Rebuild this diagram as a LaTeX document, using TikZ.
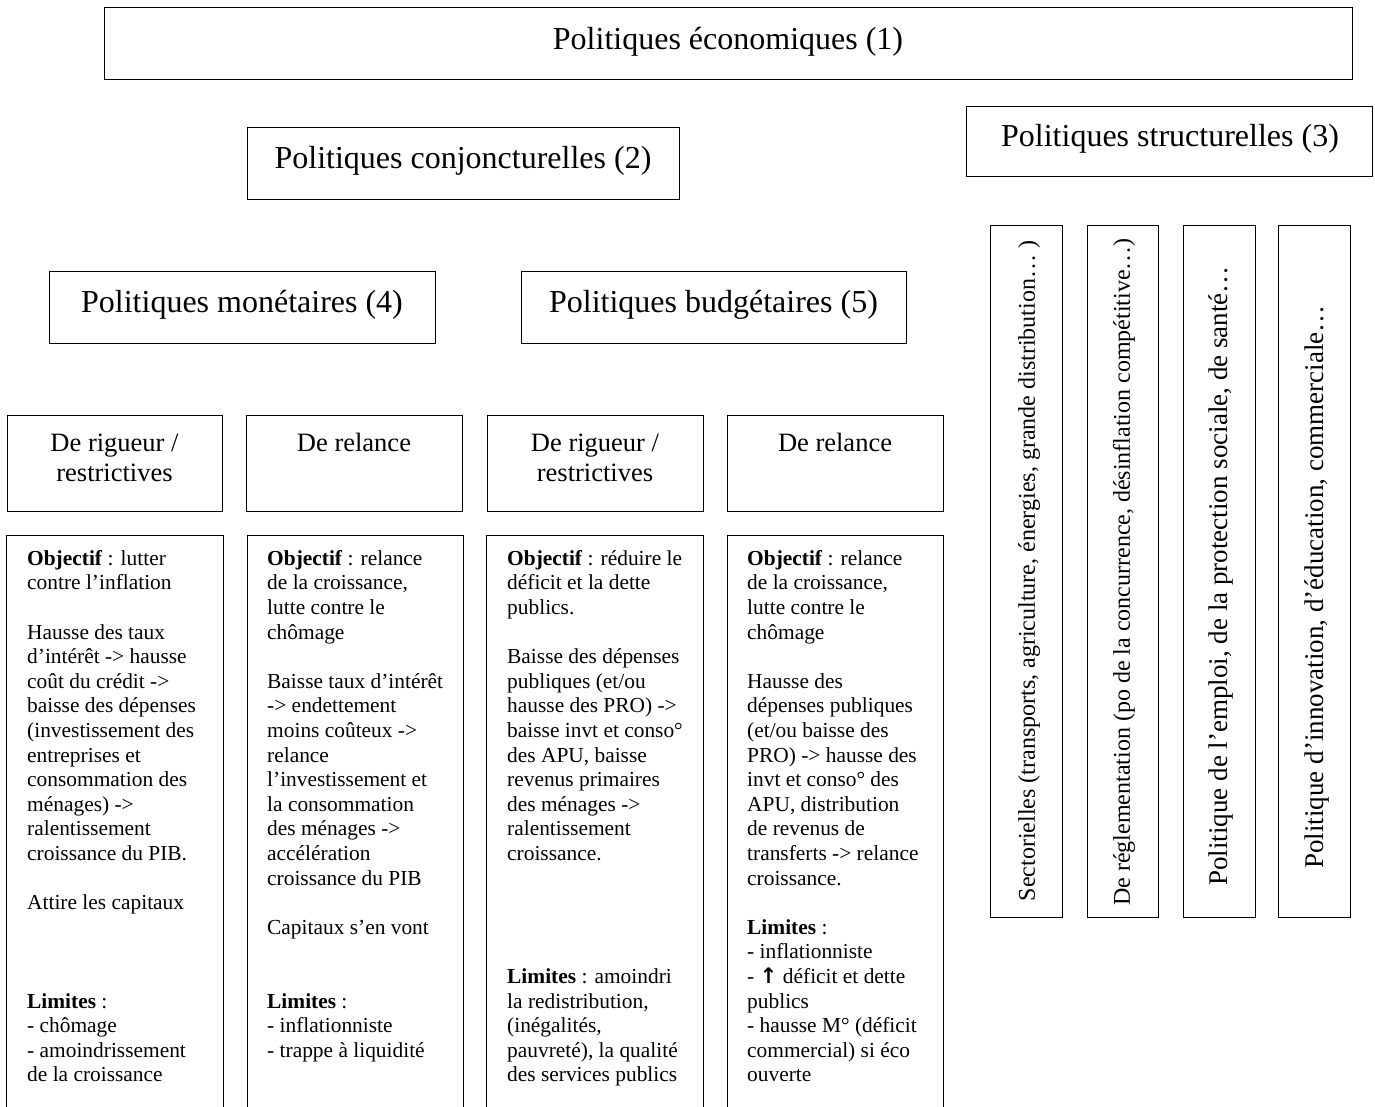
\documentclass[tikz,border=0pt]{standalone}
\usepackage{fontspec}
\setmainfont{Liberation Serif}
\newfontfamily\arrowfont{DejaVu Sans}
\begin{document}
\begin{tikzpicture}[x=1pt,y=-1pt,
  box/.style={draw, line width=1.3pt, rectangle, inner sep=0pt, anchor=north west},
  big/.style={font=\fontsize{32}{36.8}\selectfont, anchor=base, inner sep=0pt},
  head/.style={font=\fontsize{26.5}{30.5}\selectfont, align=center, anchor=north, inner sep=0pt},
  body/.style={font=\fontsize{21.4}{24.6}\selectfont, align=left, anchor=north west, inner sep=0pt},
  vsmall/.style={rotate=90, inner sep=0pt, font=\fontsize{24}{27}\selectfont},
  vlarge/.style={rotate=90, inner sep=0pt, font=\fontsize{27}{31}\selectfont}]
\useasboundingbox (0,0) rectangle (1375,1106);
\fill[white] (0,0) rectangle (1375,1106);

% level 1
\node[box, minimum width=1248pt, minimum height=72pt] (eco) at (104,7) {};
\node[big] (ecot) at (728,49) {Politiques économiques (1)};

% level 2
\node[box, minimum width=432pt, minimum height=72pt] (conj) at (247,127) {};
\node[big] (conjt) at (463,168) {Politiques conjoncturelles (2)};
\node[box, minimum width=406pt, minimum height=70pt] (struc) at (966,106) {};
\node[big] (struct) at (1170,146) {Politiques structurelles (3)};

% level 3
\node[box, minimum width=386pt, minimum height=72pt] (mon) at (49,271) {};
\node[big] (mont) at (242,312) {Politiques monétaires (4)};
\node[box, minimum width=385pt, minimum height=72pt] (bud) at (521,271) {};
\node[big] (budt) at (713.5,312) {Politiques budgétaires (5)};

% headings
\node[box, minimum width=215pt, minimum height=96pt] (ha) at (7,415) {};
\node[head] (hat) at (114.5,431) {\rule{0pt}{20pt}De rigueur /\\restrictives};
\node[box, minimum width=216pt, minimum height=96pt] (hb) at (246,415) {};
\node[head] (hbt) at (354,431) {\rule{0pt}{20pt}De relance};
\node[box, minimum width=216pt, minimum height=96pt] (hc) at (487,415) {};
\node[head] (hct) at (595,431) {\rule{0pt}{20pt}De rigueur /\\restrictives};
\node[box, minimum width=216pt, minimum height=96pt] (hd) at (727,415) {};
\node[head] (hdt) at (835,431) {\rule{0pt}{20pt}De relance};

% body boxes (cut by the page bottom)
\begin{scope}
\clip (0,0) rectangle (1375,1106);
\node[box, minimum width=217pt, minimum height=600pt] (ba) at (6,535) {};
\node[box, minimum width=216pt, minimum height=600pt] (bb) at (247,535) {};
\node[box, minimum width=217pt, minimum height=600pt] (bc) at (486,535) {};
\node[box, minimum width=216pt, minimum height=600pt] (bd) at (727,535) {};
\end{scope}

\node[body] (bat) at (27,550) {\rule{0pt}{15pt}\textbf{Objectif} : lutter\\
contre l’inflation\\[24.6pt]
Hausse des taux\\
d’intérêt -> hausse\\
coût du crédit ->\\
baisse des dépenses\\
(investissement des\\
entreprises et\\
consommation des\\
ménages) ->\\
ralentissement\\
croissance du PIB.\\[24.6pt]
Attire les capitaux\\[73.8pt]
\textbf{Limites} :\\
- chômage\\
- amoindrissement\\
de la croissance};

\node[body] (bbt) at (267,550) {\rule{0pt}{15pt}\textbf{Objectif} : relance\\
de la croissance,\\
lutte contre le\\
chômage\\[24.6pt]
Baisse taux d’intérêt\\
-> endettement\\
moins coûteux ->\\
relance\\
l’investissement et\\
la consommation\\
des ménages ->\\
accélération\\
croissance du PIB\\[24.6pt]
Capitaux s’en vont\\[49.2pt]
\textbf{Limites} :\\
- inflationniste\\
- trappe à liquidité};

\node[body] (bct) at (507,550) {\rule{0pt}{15pt}\textbf{Objectif} : réduire le\\
déficit et la dette\\
publics.\\[24.6pt]
Baisse des dépenses\\
publiques (et/ou\\
hausse des PRO) ->\\
baisse invt et conso°\\
des APU, baisse\\
revenus primaires\\
des ménages ->\\
ralentissement\\
croissance.\\[98.4pt]
\textbf{Limites} : amoindri\\
la redistribution,\\
(inégalités,\\
pauvreté), la qualité\\
des services publics};

\node[body] (bdt) at (747,550) {\rule{0pt}{15pt}\textbf{Objectif} : relance\\
de la croissance,\\
lutte contre le\\
chômage\\[24.6pt]
Hausse des\\
dépenses publiques\\
(et/ou baisse des\\
PRO) -> hausse des\\
invt et conso° des\\
APU, distribution\\
de revenus de\\
transferts -> relance\\
croissance.\\[24.6pt]
\textbf{Limites} :\\
- inflationniste\\
- {\arrowfont\bfseries ↑} déficit et dette\\
publics\\
- hausse M° (déficit\\
commercial) si éco\\
ouverte};

% structural boxes
\node[box, minimum width=72pt, minimum height=692pt] (s1) at (990,225) {};
\node[vsmall] (s1t) at (1029,571) {Sectorielles (transports, agriculture, énergies, grande distribution… )};
\node[box, minimum width=71pt, minimum height=692pt] (s2) at (1087,225) {};
\node[vsmall] (s2t) at (1124,572) {De réglementation (po de la concurrence, désinflation compétitive…)};
\node[box, minimum width=72pt, minimum height=692pt] (s3) at (1183,225) {};
\node[vlarge] (s3t) at (1221,576) {Politique de l’emploi, de la protection sociale, de santé…};
\node[box, minimum width=72pt, minimum height=692pt] (s4) at (1278,225) {};
\node[vlarge] (s4t) at (1317,587) {Politique d’innovation, d’éducation, commerciale…};
\end{tikzpicture}
\end{document}
